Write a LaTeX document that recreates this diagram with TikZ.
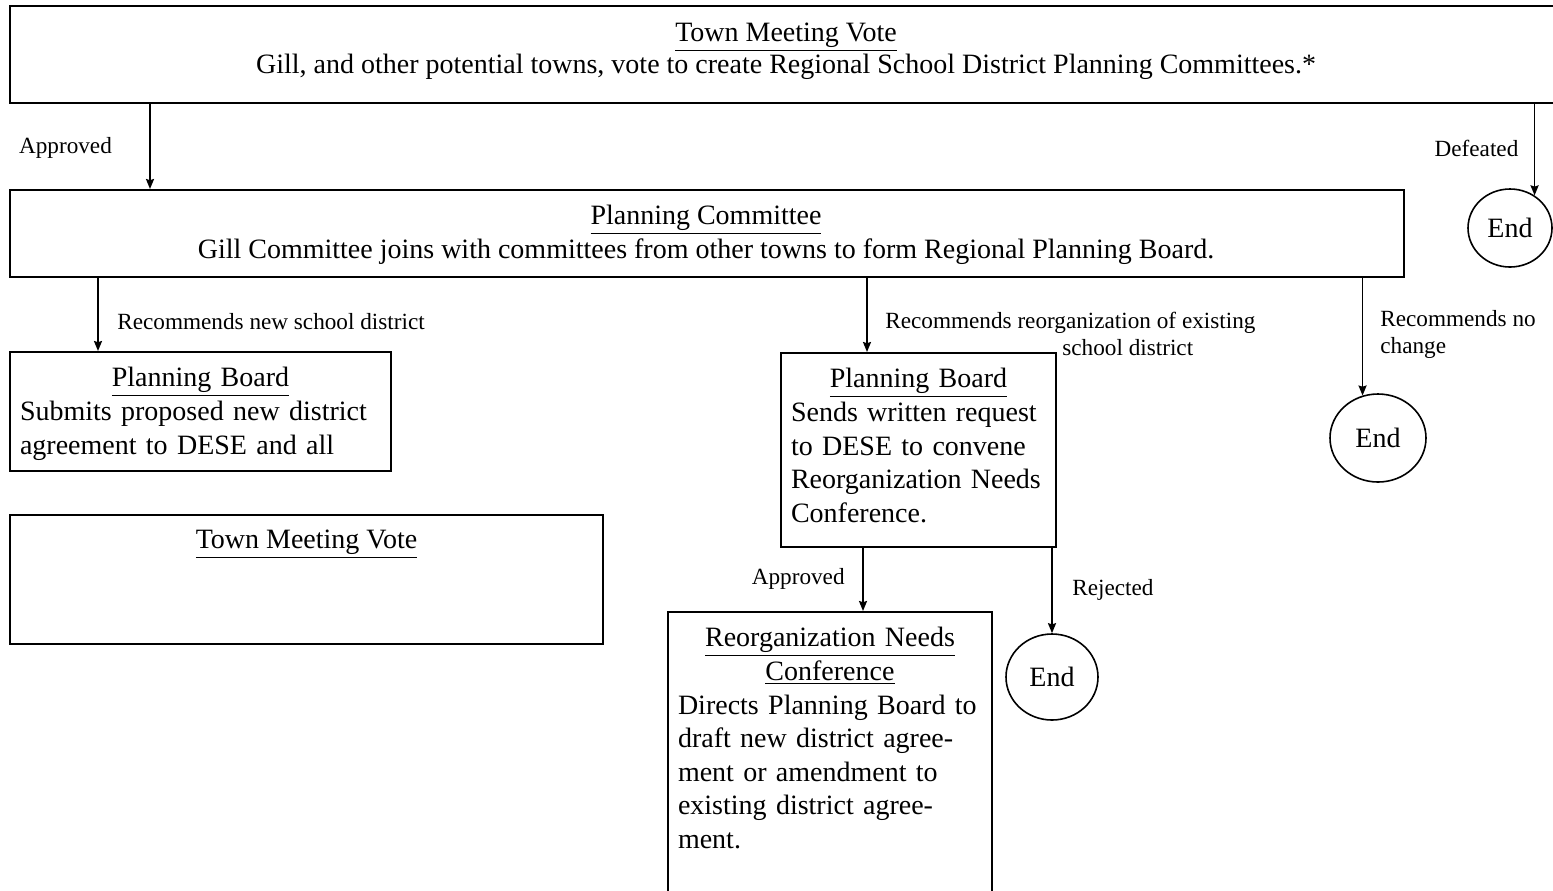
\documentclass[tikz,border=0pt]{standalone}
\usepackage{fontspec}
\setmainfont{Liberation Serif}
\usetikzlibrary{shapes.geometric, arrows.meta}
\tikzset{>={Stealth[length=5pt, width=4pt, inset=0.6pt]}}

\begin{document}
\begin{tikzpicture}[x=0.5pt, y=-0.5pt,
    box/.style={draw, line width=1pt, rectangle, inner sep=0pt, anchor=north west},
    txt/.style={anchor=north, inner sep=0pt, yshift=-8pt, font=\fontsize{14}{16.8}\selectfont},
    lbl/.style={inner sep=0pt, align=left, font=\fontsize{11.6}{13.5}\selectfont},
    endnode/.style={draw, line width=0.8pt, ellipse, inner sep=0pt, font=\fontsize{14}{16.8}\selectfont},
    arr/.style={->, line width=0.9pt}]
    \useasboundingbox (0,0) rectangle (1553,890);

    % boxes
    \node[box, minimum width=795.5pt, minimum height=48.5pt] (vote) at (9,5) {};
    \node[box, minimum width=697pt, minimum height=43.5pt] (pc) at (9,189) {};
    \node[box, minimum width=190.5pt, minimum height=59.5pt] (pbA) at (9,351) {};
    \node[box, minimum width=296.5pt, minimum height=64.5pt] (voteB) at (9,514) {};
    \node[box, minimum width=137.5pt, minimum height=97pt] (pbB) at (780,352) {};
    \node[box, minimum width=162pt, minimum height=150pt] (rnc) at (667,611) {};

    % texts
    \node[txt, align=center, font=\fontsize{14}{14.5}\selectfont, yshift=-1pt] (voteT) at (vote.north -| 786,0)
        {\underline{Town Meeting Vote}\\Gill, and other potential towns, vote to create Regional School District Planning Committees.*};
    \node[txt, align=center] (pcT) at (pc.north -| 706,0)
        {\underline{Planning Committee}\\Gill Committee joins with committees from other towns to form Regional Planning Board.};
    \node[txt, text width=180.5pt] (pbAT) at (pbA.north)
        {\centering\underline{Planning Board}\par\raggedright
         Submits proposed new district\\agreement to DESE and all};
    \node[txt, align=center] (voteBT) at (voteB.north) {\underline{Town Meeting Vote}};
    \node[txt, text width=127.5pt] (pbBT) at (pbB.north)
        {\centering\underline{Planning Board}\par\raggedright
         Sends written request\\to DESE to convene\\Reorganization Needs\\Conference.};
    \node[txt, text width=152pt] (rncT) at (rnc.north)
        {\centering\underline{Reorganization Needs}\\\underline{Conference}\par\raggedright
         Directs Planning Board to\\draft new district agree-\\ment or amendment to\\existing district agree-\\ment.};

    % end points
    \node[endnode, minimum width=42pt, minimum height=39pt] (endA) at (1510,228) {End};
    \node[endnode, minimum width=48pt, minimum height=44pt] (endB) at (1378,438) {End};
    \node[endnode, minimum width=46pt, minimum height=43pt] (endC) at (1052,677) {End};

    % connectors
    \draw[arr] (vote.south -| 150,0) -- (pc.north -| 150,0);
    \draw[arr] (vote.south -| endA.53) -- (endA.53);
    \draw[arr] (pc.south -| 98,0) -- (pbA.north -| 98,0);
    \draw[arr] (pc.south -| 867,0) -- (pbB.north -| 867,0);
    \draw[arr] (pc.south -| endB.110) -- (endB.110);
    \draw[arr] (pbB.south -| 863,0) -- (rnc.north -| 863,0);
    \draw[arr] (pbB.south -| endC.north) -- (endC.north);

    % labels
    \node[lbl] (lApp) at (65.5,148) {Approved};
    \node[lbl] (lDef) at (1476.5,148) {Defeated};
    \node[lbl, anchor=west] (lNew) at (117,322) {Recommends new school district};
    \node[lbl, anchor=west] (lReorg) at (885,334)
        {Recommends reorganization of existing\\\hspace*{88.5pt}school district};
    \node[lbl, anchor=west] (lNo) at (1380,334) {Recommends no\\change};
    \node[lbl, anchor=east] (lApp2) at (845,579) {Approved};
    \node[lbl, anchor=west] (lRej) at (1072,590) {Rejected};
\end{tikzpicture}
\end{document}
